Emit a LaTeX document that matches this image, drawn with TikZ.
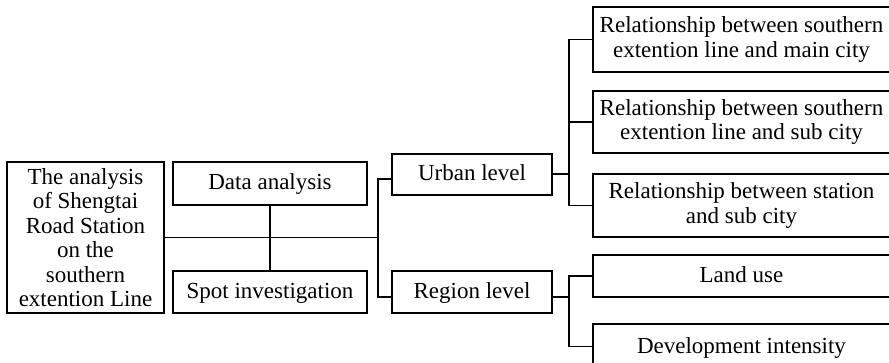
\documentclass[tikz,border=0pt]{standalone}
\usepackage{fontspec}
\setmainfont{Liberation Serif}
\begin{document}
\begin{tikzpicture}[x=1pt,y=-1pt,
  box/.style={draw,line width=1.3pt,inner sep=0pt,align=center,
    font=\fontsize{23}{24.5}\selectfont},
  one/.style={box,text height=16pt,text depth=3pt},
  conn/.style={line width=1.3pt}]
\path[use as bounding box,clip] (0,0) rectangle (889,363);
\node[box,minimum width=157pt,minimum height=151pt] (main) at (85.5,237.5)
  {The analysis\\of Shengtai\\Road Station\\on the\\southern\\extention Line};
\node[one,minimum width=194pt,minimum height=43pt] (data) at (270,183.5) {Data analysis};
\node[one,minimum width=194pt,minimum height=42pt] (spot) at (270,292) {Spot investigation};
\node[one,minimum width=160pt,minimum height=41pt] (urban) at (472,174.5) {Urban level};
\node[one,minimum width=160pt,minimum height=42pt] (region) at (472,292) {Region level};
\node[box,minimum width=297pt,minimum height=65pt] (r1) at (741.5,39.5)
  {Relationship between southern\\extention line and main city};
\node[box,minimum width=297pt,minimum height=62pt] (r2) at (741.5,122)
  {Relationship between southern\\extention line and sub city};
\node[box,minimum width=297pt,minimum height=63pt] (r3) at (741.5,205.5)
  {Relationship between station\\and sub city};
\node[one,minimum width=297pt,minimum height=42pt] (land) at (741.5,276) {Land use};
\node[one,minimum width=297pt,minimum height=45pt] (dev) at (741.5,346.5) {Development intensity};
\coordinate (j1) at (378,237.5);
\coordinate (ua) at (378,179);
\coordinate (ra) at (378,297);
\coordinate (ub) at (569,174);
\coordinate (rb) at (569,297);
\draw[conn] (main.east) -- (j1);
\draw[conn] (data.south) -- (spot.north);
\draw[conn] (ua -| urban.west) -- (ua) -- (ra) -- (ra -| region.west);
\draw[conn] (ub -| urban.east) -- (ub);
\draw[conn] (r1.west) -| (ub) |- (r3.west);
\draw[conn] (r2.west) -- (r2.west -| ub);
\draw[conn] (rb -| region.east) -- (rb);
\draw[conn] (land.west) -| (rb) |- (dev.west);
\end{tikzpicture}
\end{document}
